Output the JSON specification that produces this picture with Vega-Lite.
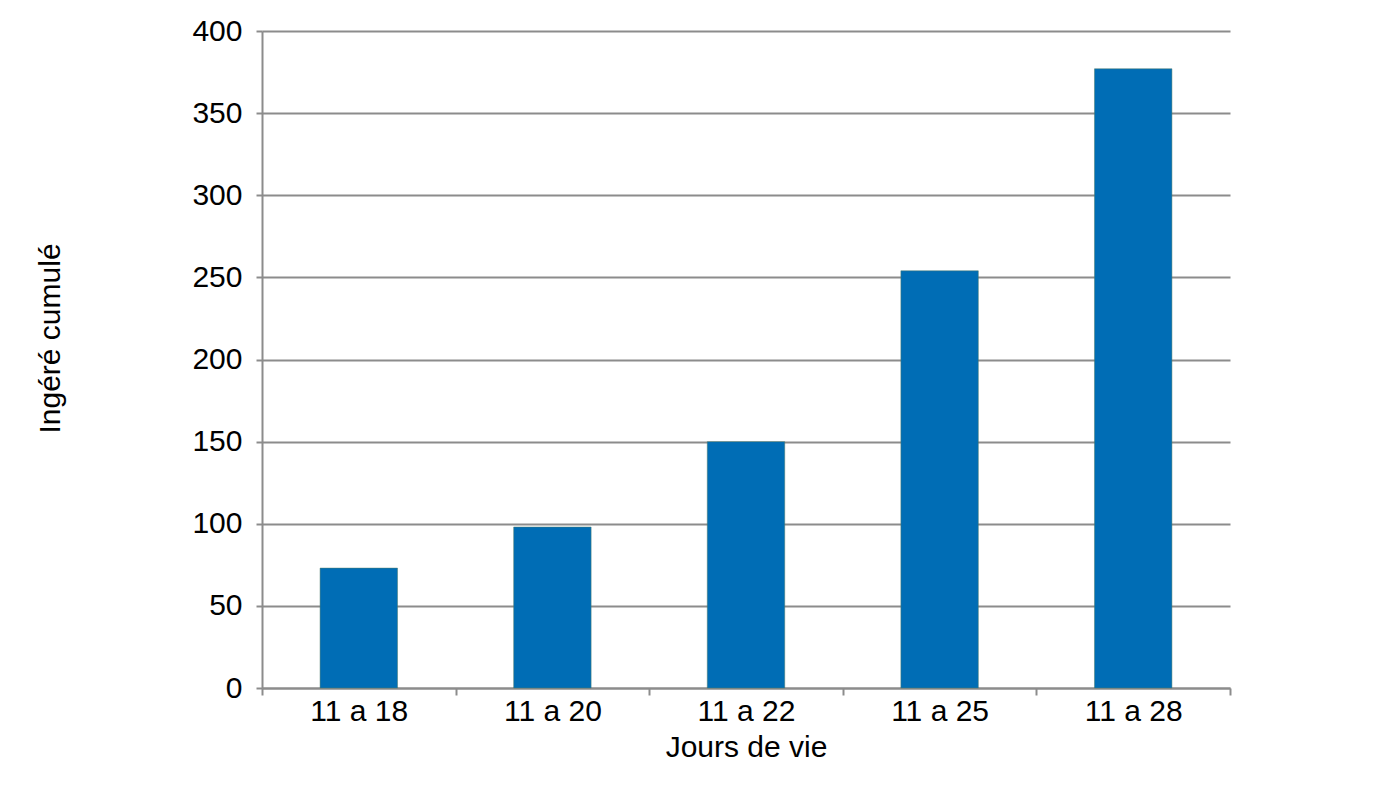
{
  "$schema": "https://vega.github.io/schema/vega-lite/v6.json",
  "width": 968,
  "height": 657,
  "autosize": "none",
  "padding": {"left": 262, "top": 31, "right": 170, "bottom": 100},
  "background": "white",
  "config": {
    "view": {"stroke": null},
    "font": "Liberation Sans",
    "axis": {
      "labelFont": "Liberation Sans",
      "titleFont": "Liberation Sans",
      "labelFontSize": 30,
      "titleFontSize": 30,
      "labelColor": "black",
      "titleColor": "black",
      "titleFontWeight": "normal",
      "domainColor": "#8c8c8c",
      "domainWidth": 2,
      "tickColor": "#8c8c8c",
      "tickWidth": 2,
      "gridColor": "#8c8c8c",
      "gridWidth": 2
    }
  },
  "data": {
    "values": [
      {"jours": "11 a 18", "ingere": 73},
      {"jours": "11 a 20", "ingere": 98},
      {"jours": "11 a 22", "ingere": 150},
      {"jours": "11 a 25", "ingere": 254},
      {"jours": "11 a 28", "ingere": 377}
    ]
  },
  "mark": {
    "type": "bar",
    "color": "#006db5",
    "stroke": "#4a7a6a",
    "strokeWidth": 0.5,
    "width": {"band": 0.4}
  },
  "encoding": {
    "x": {
      "field": "jours",
      "type": "nominal",
      "sort": null,
      "scale": {"paddingInner": 0, "paddingOuter": 0},
      "axis": {
        "title": "Jours de vie",
        "labelAngle": 0,
        "tickBand": "extent",
        "tickSize": 7,
        "labelPadding": 1,
        "titlePadding": 6,
        "grid": false
      }
    },
    "y": {
      "field": "ingere",
      "type": "quantitative",
      "scale": {"domain": [0, 400], "nice": false},
      "axis": {
        "title": "Ingéré cumulé",
        "values": [0, 50, 100, 150, 200, 250, 300, 350, 400],
        "tickSize": 6,
        "labelPadding": 14,
        "titleX": -212,
        "titleY": 307,
        "titleAngle": -90,
        "titleAlign": "center",
        "titleBaseline": "middle"
      }
    }
  }
}
